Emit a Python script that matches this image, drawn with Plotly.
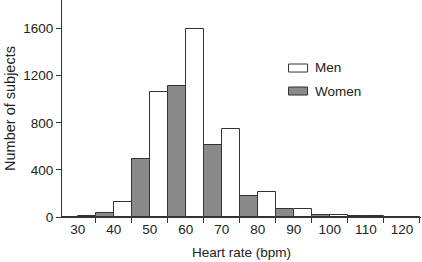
import plotly.graph_objects as go

categories = ["30", "40", "50", "60", "70", "80", "90", "100", "110", "120"]
women = [0, 30, 490, 1115, 615, 175, 66, 13, 5, 0]
men = [8, 125, 1060, 1595, 745, 212, 72, 13, 5, 0]
series_names = ["Men", "Women"]
y_ticks = [0, 400, 800, 1200, 1600]

FONT = "Liberation Sans, Arial, Helvetica, sans-serif"
LINE = "#333333"
GRAY = "#8a8a8a"

fig = go.Figure()
fig.add_trace(go.Bar(x=categories, y=women, name=series_names[1],
                     marker=dict(color=GRAY, line=dict(color=LINE, width=1)),
                     showlegend=False))
fig.add_trace(go.Bar(x=categories, y=men, name=series_names[0],
                     marker=dict(color="white", line=dict(color=LINE, width=1)),
                     showlegend=False))

# manual legend (paper coordinates)
legend_items = [(series_names[0], "white", 0.705, 0.668, 0.687),
                (series_names[1], GRAY, 0.599, 0.562, 0.580)]
for name, col, y1, y0, yt in legend_items:
    fig.add_shape(type="rect", xref="paper", yref="paper",
                  x0=0.631, x1=0.684, y0=y0, y1=y1,
                  fillcolor=col, line=dict(color=LINE, width=1))
    fig.add_annotation(xref="paper", yref="paper", x=0.699, y=yt,
                       text=name, showarrow=False, xanchor="left", yanchor="middle",
                       font=dict(family=FONT, size=13.5, color="#222"))

fig.update_layout(
    template="none",
    width=422, height=262,
    margin=dict(l=62, r=1, t=0, b=45, autoexpand=False),
    paper_bgcolor="white", plot_bgcolor="white",
    barmode="group", bargap=0, bargroupgap=0,
    font=dict(family=FONT, size=13, color="#222"),
    xaxis=dict(type="category", range=[-0.436, 9.53], tickson="boundaries",
               automargin=False,
               ticks="outside", ticklen=5, tickcolor=LINE, tickwidth=1,
               showline=True, linecolor=LINE, linewidth=1, showgrid=False,
               tickfont=dict(size=13.5),
               title=dict(text="Heart rate (bpm)", font=dict(size=13.5), standoff=11)),
    yaxis=dict(range=[0, 1843], tickvals=y_ticks, ticks="outside", ticklen=5,
               automargin=False,
               tickcolor=LINE, tickwidth=1, showline=True, linecolor=LINE,
               linewidth=1, showgrid=False, zeroline=False,
               tickfont=dict(size=13.5),
               title=dict(text="Number of subjects", font=dict(size=14.5), standoff=4)),
)

fig.write_html("out.html", config={"displayModeBar": False},
               post_script="document.body.style.margin='0';document.body.style.overflow='hidden';")
